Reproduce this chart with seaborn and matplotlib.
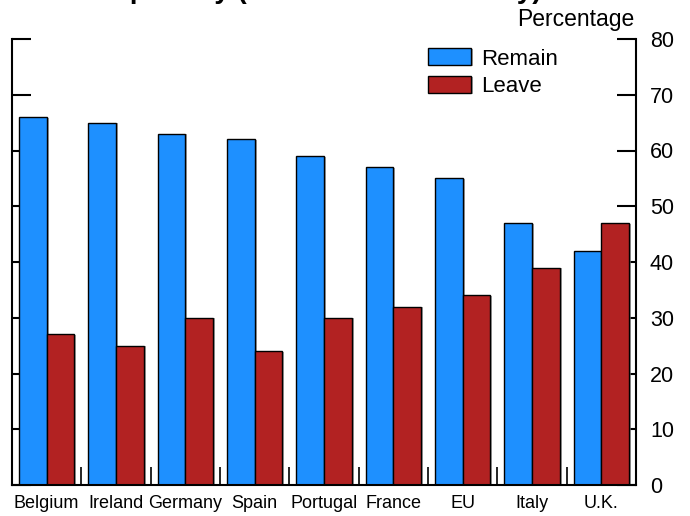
import pandas as pd
import matplotlib
matplotlib.use('Agg')
import matplotlib.pyplot as plt
import matplotlib.patheffects as pe
from matplotlib.ticker import FixedLocator
import seaborn as sns

# data
countries = ["Belgium", "Ireland", "Germany", "Spain", "Portugal",
             "France", "EU", "Italy", "U.K."]
remain = [66, 65, 63, 62, 59, 57, 55, 47, 42]
leave = [27, 25, 30, 24, 30, 32, 34, 39, 47]
series = ["Remain", "Leave"]
colors = ["#1E90FF", "#B22222"]

df = pd.DataFrame({
    "Country": countries * 2,
    "Answer": [series[0]] * len(countries) + [series[1]] * len(countries),
    "Value": remain + leave,
})

sns.set_style("white")
plt.rcParams['font.family'] = ['Liberation Sans', 'DejaVu Sans']
plt.rcParams['text.color'] = 'black'
plt.rcParams['xtick.color'] = 'black'
plt.rcParams['ytick.color'] = 'black'

fig = plt.figure(figsize=(6.9, 5.16), dpi=100)
ax = fig.add_axes([12 / 690, 1 - 485 / 516, 624 / 690, (485 - 39) / 516])

sns.barplot(data=df, x="Country", y="Value", hue="Answer", order=countries,
            hue_order=series, palette=colors, width=0.8, edgecolor="black",
            linewidth=1, saturation=1, ax=ax)

for bar in ax.patches:
    bar.set_path_effects([pe.SimplePatchShadow(offset=(1.5, -0.5), shadow_rgbFace="gray", alpha=0.7),
                          pe.Normal()])

ax.set_xlim(-0.5, len(countries) - 0.5)
ax.set_ylim(0, 80)
ax.set_yticks(range(0, 81, 10))
ax.set_xlabel("")
ax.set_ylabel("")

for side in ["left", "right", "bottom"]:
    ax.spines[side].set_visible(True)
    ax.spines[side].set_linewidth(1.5)
    ax.spines[side].set_color("black")
ax.spines["top"].set_visible(False)

ax.tick_params(axis="y", which="major", direction="in", left=True, right=True,
               labelleft=False, labelright=True, length=14, width=1.5,
               labelsize=15.5, pad=10)
ax.tick_params(axis="x", which="major", length=0, labelsize=13, pad=7)
ax.xaxis.set_minor_locator(FixedLocator([i + 0.5 for i in range(len(countries) - 1)]))
ax.tick_params(axis="x", which="minor", direction="in", bottom=True, length=13, width=1.2)

leg = ax.legend(loc="upper left", bbox_to_anchor=((412 - 12) / 624, 1.014), frameon=False,
                fontsize=16, handlelength=1.95, handleheight=0.8, handletextpad=0.45,
                labelspacing=0.3, borderaxespad=0.3)

fig.text(634 / 690, 1 - 26 / 516, "Percentage", ha="right", va="baseline", fontsize=16.5)
fig.text(541 / 690, 1 + 2 / 516, "EU Popularity (Pew Research survey)", ha="right",
         va="baseline", fontsize=20, fontweight="bold")

fig.savefig("out.png", dpi=100)
